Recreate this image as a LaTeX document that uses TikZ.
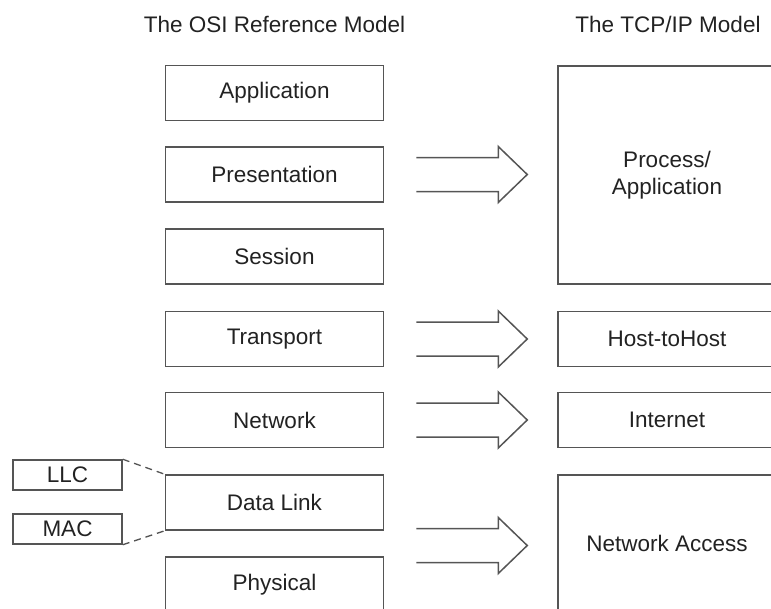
\documentclass[tikz,border=0pt]{standalone}
\usepackage{fontspec}
\setmainfont{Liberation Sans}
\usetikzlibrary{calc}
\definecolor{linegray}{HTML}{555555}
\definecolor{textgray}{HTML}{222222}
\begin{document}
\begin{tikzpicture}[x=1pt,y=-1pt,
  every node/.style={font=\fontsize{22.5}{27}\selectfont, text=textgray},
  layer/.style={draw=linegray, line width=1.5pt, minimum width=218pt, minimum height=55pt, inner sep=0pt, align=center},
  sub/.style={draw=linegray, line width=1.5pt, minimum width=109pt, minimum height=30pt, inner sep=0pt},
  title/.style={inner sep=0pt},
  bigarrow/.style={draw=linegray, line width=1.5pt, line join=miter},
  sublink/.style={draw=linegray, line width=1.3pt, dash pattern=on 7pt off 5pt}
]
\useasboundingbox (0,0) rectangle (771,608);

% titles
\node[title] (t1) at (274.5,24) {The OSI Reference Model};
\node[title] (t2) at (668,24) {The TCP/IP Model};

% OSI layers
\node[layer] (app)  at (274.5,93)  {Application};
\node[layer] (pres) at (274.5,174.5) {Presentation};
\node[layer] (sess) at (274.5,256.5) {Session};
\node[layer] (tran) at (274.5,339) {Transport};
\node[layer] (netw) at (274.5,420) {Network};
\node[layer] (dl)   at (274.5,502.5) {Data Link};
\node[layer] (phys) at (274.5,584.5) {Physical};

% TCP/IP layers
\node[layer, minimum height=218pt] (proc) at (667,175) {Process/\\Application};
\node[layer] (host) at (667,339) {Host-toHost};
\node[layer] (inet) at (667,420) {Internet};
\node[layer, minimum height=136pt] (nacc) at (667,543) {Network Access};

% sublayers
\node[sub] (llc) at (67.5,475) {LLC};
\node[sub] (mac) at (67.5,529) {MAC};
\draw[sublink] (llc.north east) -- (dl.north west);
\draw[sublink] (mac.south east) -- (dl.south west);

% block arrows
\foreach \src/\dst in {pres/proc, tran/host, netw/inet}{
  \coordinate (a) at ($(\src.east)+(32,0)$);
  \draw[bigarrow] ($(a)+(0,-17)$) -- ++(82,0) -- ++(0,-11) -- ($(a)+(111,0)$)
     -- ($(a)+(82,28)$) -- ++(0,-11) -- ($(a)+(0,17)$);
}
\coordinate (mid) at ($(dl.east)!0.5!(phys.east)$);
\coordinate (a) at ($(mid)+(32,2)$);
\draw[bigarrow] ($(a)+(0,-17)$) -- ++(82,0) -- ++(0,-11) -- ($(a)+(111,0)$)
   -- ($(a)+(82,28)$) -- ++(0,-11) -- ($(a)+(0,17)$);
\end{tikzpicture}
\end{document}
